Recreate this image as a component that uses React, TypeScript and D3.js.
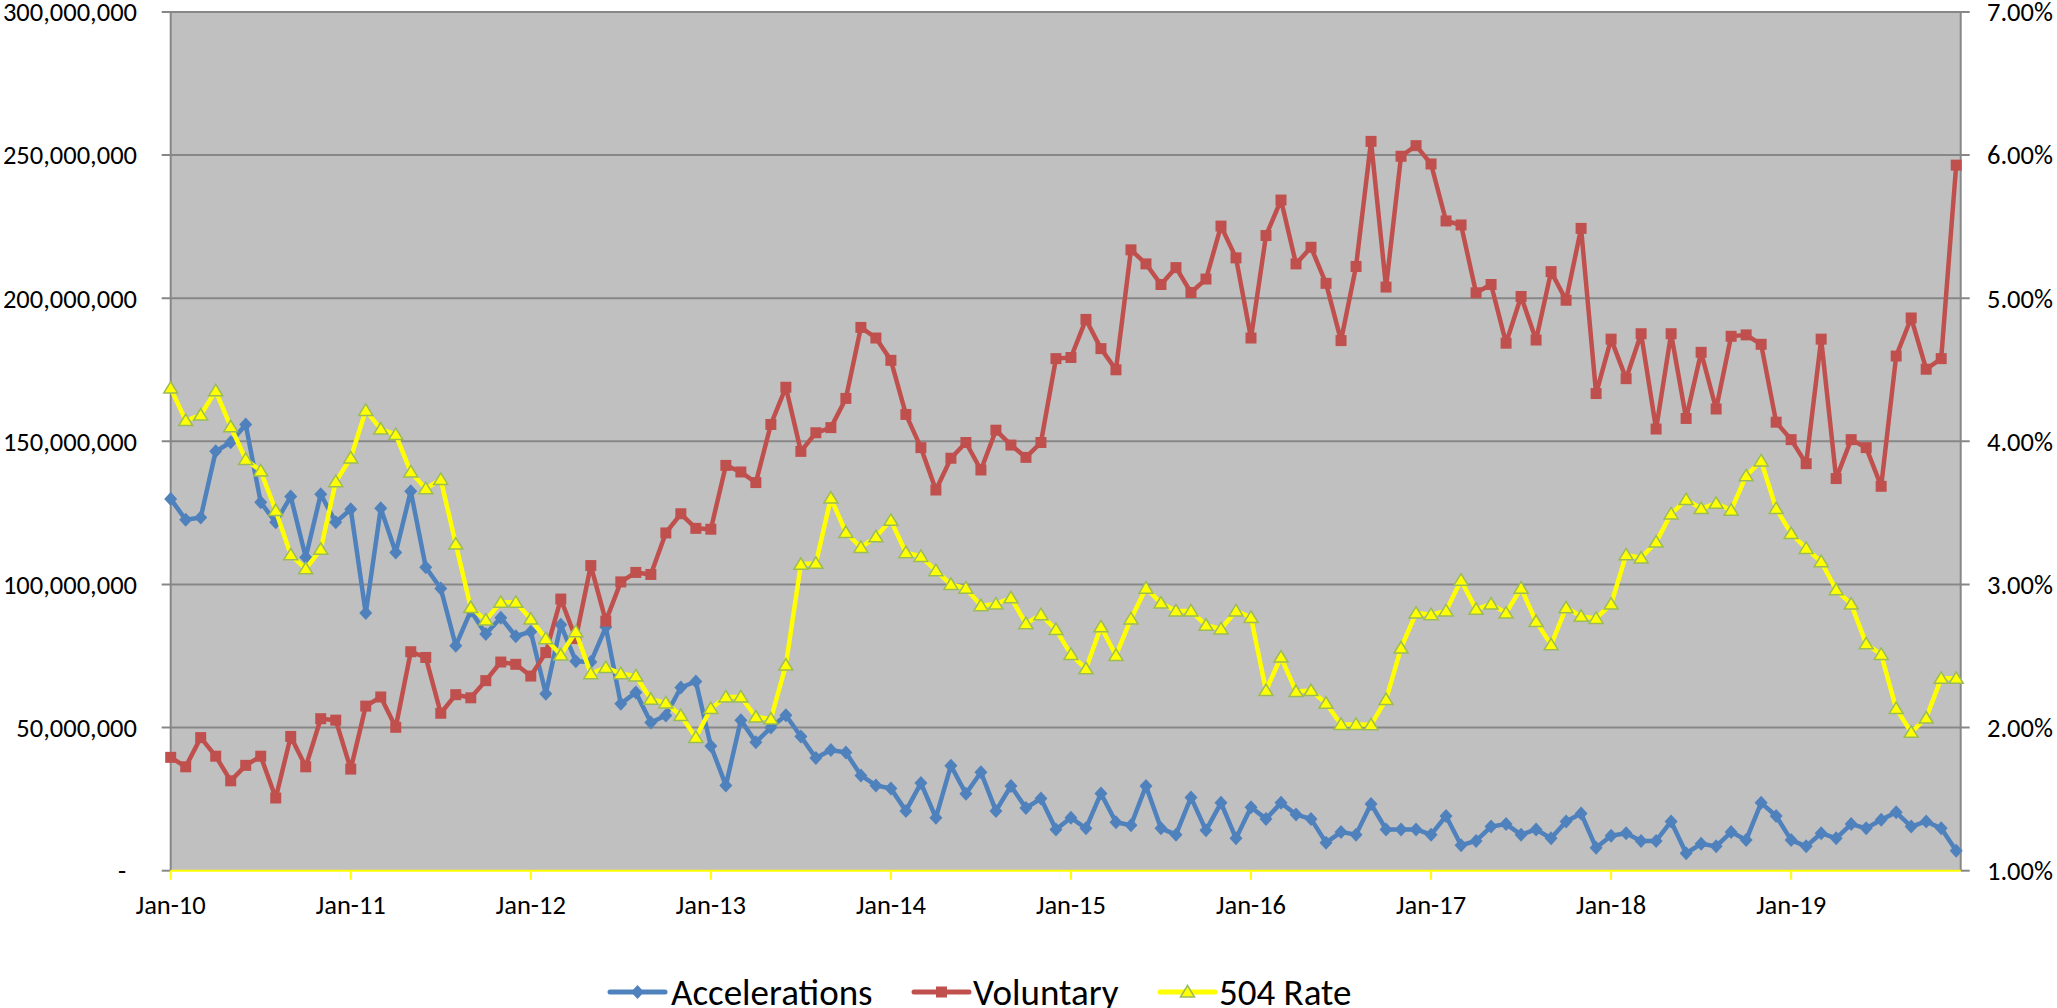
import React from 'react';
import * as d3 from 'd3';

// x-axis labels, one per January (index 0, 12, 24 ...)
const yearLabels = ['Jan-10', 'Jan-11', 'Jan-12', 'Jan-13', 'Jan-14', 'Jan-15', 'Jan-16', 'Jan-17', 'Jan-18', 'Jan-19'];

// monthly values Jan-10 .. Dec-19, in millions
const accelerations = [
  129.9, 122.6, 123.4, 146.5, 149.7, 155.9, 128.7, 121.7, 130.7, 109.5, 131.5, 121.7,
  126.3, 90.0, 126.6, 111.2, 132.6, 106.0, 98.6, 78.6, 90.8, 82.7, 88.4, 81.9,
  83.5, 61.8, 85.9, 73.2, 72.9, 85.1, 58.3, 62.3, 51.8, 54.2, 64.0, 66.1,
  43.6, 29.8, 52.6, 44.9, 50.0, 54.3, 46.9, 39.4, 42.2, 41.3, 33.3, 29.8,
  28.7, 20.9, 30.6, 18.5, 36.7, 26.9, 34.4, 20.9, 29.6, 21.9, 25.2, 14.4,
  18.5, 14.8, 27.0, 16.9, 15.9, 29.6, 14.8, 12.6, 25.6, 14.1, 23.7, 11.3,
  22.2, 18.1, 23.7, 19.6, 18.1, 9.8, 13.5, 12.6, 23.3, 14.4, 14.4, 14.4,
  12.6, 19.1, 8.9, 10.4, 15.4, 16.3, 12.6, 14.4, 11.3, 17.2, 20.0, 8.0,
  12.2, 13.1, 10.4, 10.4, 17.2, 6.1, 9.4, 8.5, 13.5, 10.7, 23.7, 19.1,
  10.7, 8.5, 13.1, 11.3, 16.3, 14.8, 17.8, 20.4, 15.4, 17.2, 14.8, 7.0,
];

const voluntary = [
  39.6, 36.3, 46.5, 40.0, 31.4, 36.8, 40.0, 25.4, 46.9, 36.3, 53.1, 52.6,
  35.5, 57.5, 60.7, 50.1, 76.5, 74.5, 55.0, 61.5, 60.4, 66.4, 72.9, 72.1,
  68.0, 76.2, 94.9, 81.1, 106.6, 87.2, 100.9, 104.2, 103.5, 118.0, 124.7, 119.6,
  119.3, 141.6, 139.3, 135.6, 155.9, 168.9, 146.5, 153.0, 154.8, 165.0, 189.8, 186.1,
  178.3, 159.4, 147.8, 133.0, 144.1, 149.6, 140.0, 153.9, 148.7, 144.4, 149.6, 178.9,
  179.3, 192.6, 182.4, 175.0, 216.9, 212.0, 204.8, 210.7, 202.0, 206.7, 225.2, 214.1,
  186.1, 221.9, 234.3, 212.0, 217.8, 205.2, 185.2, 211.1, 254.8, 203.9, 249.6, 253.3,
  246.9, 227.0, 225.6, 201.9, 204.8, 184.3, 200.6, 185.4, 209.3, 199.3, 224.4, 166.7,
  185.7, 171.9, 187.6, 154.3, 187.6, 158.0, 181.1, 161.3, 186.7, 187.2, 183.9, 156.7,
  150.6, 142.2, 185.7, 137.0, 150.6, 147.8, 134.3, 179.8, 193.1, 175.2, 178.9, 246.5,
];

// 504 rate in percent (right axis)
const rate504 = [
  4.372, 4.145, 4.184, 4.353, 4.102, 3.874, 3.793, 3.516, 3.207, 3.109, 3.246, 3.718,
  3.884, 4.216, 4.086, 4.047, 3.786, 3.669, 3.734, 3.282, 2.839, 2.751, 2.875, 2.875,
  2.758, 2.621, 2.507, 2.670, 2.377, 2.419, 2.377, 2.361, 2.198, 2.172, 2.084, 1.931,
  2.133, 2.214, 2.214, 2.074, 2.060, 2.437, 3.141, 3.148, 3.604, 3.363, 3.259, 3.333,
  3.448, 3.222, 3.196, 3.096, 3.000, 2.974, 2.852, 2.863, 2.907, 2.726, 2.789, 2.685,
  2.511, 2.411, 2.704, 2.504, 2.759, 2.974, 2.870, 2.815, 2.815, 2.715, 2.689, 2.815,
  2.770, 2.259, 2.493, 2.252, 2.259, 2.170, 2.022, 2.022, 2.019, 2.196, 2.556, 2.800,
  2.789, 2.815, 3.030, 2.826, 2.863, 2.800, 2.974, 2.741, 2.578, 2.837, 2.778, 2.763,
  2.863, 3.207, 3.185, 3.296, 3.493, 3.593, 3.530, 3.567, 3.519, 3.759, 3.863, 3.530,
  3.356, 3.252, 3.159, 2.963, 2.863, 2.585, 2.511, 2.133, 1.967, 2.067, 2.344, 2.344,
];

const leftTicks = [0, 50, 100, 150, 200, 250, 300];
const rightTicks = [1, 2, 3, 4, 5, 6, 7];

const W = 2057, H = 1008;
const plot = { left: 170.7, right: 1960.7, top: 12, bottom: 870.7 };
const font = 'Carlito, Lato, sans-serif';
const tickSize = 26.5;

const BLUE = '#4F81BD', RED = '#C0504D', YELLOW = '#FFFF00', OLIVE = '#9BBB59';
const GRID = '#878787';

const diamond = 'M0,-7L6.5,0L0,7L-6.5,0Z';
const square = 'M-5.5,-5.5H5.5V5.5H-5.5Z';
const triangle = 'M0,-6.5L7,5L-7,5Z';

export default function App() {
  // category index -> x
  const x = d3.scaleLinear().domain([0, 119.3]).range([plot.left, plot.right]);
  const yL = d3.scaleLinear().domain([0, 300]).range([plot.bottom, plot.top]);
  const yR = d3.scaleLinear().domain([1, 7]).range([plot.bottom, plot.top]);

  const lineL = d3.line<number>().x((_, i) => x(i)).y(d => yL(d));
  const lineR = d3.line<number>().x((_, i) => x(i)).y(d => yR(d));

  const fmtLeft = (v: number) => (v === 0 ? '-' : d3.format(',')(v * 1e6));
  const fmtRight = (v: number) => d3.format('.2f')(v) + '%';

  const legend = [
    { name: 'Accelerations', color: BLUE, shape: diamond, x0: 610, tx: 671, fill: BLUE, stroke: 'none' },
    { name: 'Voluntary', color: RED, shape: square, x0: 914, tx: 973, fill: RED, stroke: 'none' },
    { name: '504 Rate', color: YELLOW, shape: triangle, x0: 1160, tx: 1219, fill: YELLOW, stroke: OLIVE },
  ];

  return (
    <svg width={W} height={H} style={{ position: 'absolute', left: 0, top: 0, display: 'block', background: '#fff' }}>
      {/* plot area */}
      <rect x={plot.left} y={plot.top} width={plot.right - plot.left} height={plot.bottom - plot.top} fill="#C0C0C0" />

      {/* gridlines with tick marks on both sides */}
      {leftTicks.filter(t => t > 0).map(t => (
        <line key={`g${t}`} x1={plot.left - 9} x2={plot.right + 9} y1={yL(t)} y2={yL(t)} stroke={GRID} strokeWidth={2} />
      ))}
      <line x1={plot.left - 9} x2={plot.left} y1={plot.bottom} y2={plot.bottom} stroke={GRID} strokeWidth={2} />
      <line x1={plot.right} x2={plot.right + 9} y1={plot.bottom} y2={plot.bottom} stroke={GRID} strokeWidth={2} />

      {/* vertical axes */}
      <line x1={plot.left} x2={plot.left} y1={plot.top} y2={plot.bottom} stroke={GRID} strokeWidth={2} />
      <line x1={plot.right} x2={plot.right} y1={plot.top} y2={plot.bottom} stroke={GRID} strokeWidth={2} />

      {/* left tick labels */}
      {leftTicks.map(t => (
        <text key={`l${t}`} x={t === 0 ? 126 : 137} y={yL(t)} dy="0.35em" textAnchor="end" fontFamily={font} fontSize={tickSize} fill="#000">
          {fmtLeft(t)}
        </text>
      ))}
      {/* right tick labels */}
      {rightTicks.map(t => (
        <text key={`r${t}`} x={1987} y={yR(t)} dy="0.35em" textAnchor="start" fontFamily={font} fontSize={tickSize} fill="#000">
          {fmtRight(t)}
        </text>
      ))}

      {/* bottom axis, yellow, tick at each January */}
      <line x1={plot.left} x2={plot.right} y1={plot.bottom} y2={plot.bottom} stroke={YELLOW} strokeWidth={2} />
      {yearLabels.map((lab, k) => (
        <g key={lab} transform={`translate(${x(k * 12)},0)`}>
          <line y1={plot.bottom} y2={plot.bottom + 9} stroke={YELLOW} strokeWidth={2} />
          <text y={905} dy="0.35em" textAnchor="middle" fontFamily={font} fontSize={tickSize} fill="#000">{lab}</text>
        </g>
      ))}

      {/* Accelerations */}
      <path d={lineL(accelerations) || ''} fill="none" stroke={BLUE} strokeWidth={4.5} strokeLinejoin="round" />
      {accelerations.map((d, i) => (
        <path key={`a${i}`} d={diamond} transform={`translate(${x(i)},${yL(d)})`} fill={BLUE} />
      ))}

      {/* Voluntary */}
      <path d={lineL(voluntary) || ''} fill="none" stroke={RED} strokeWidth={4.5} strokeLinejoin="round" />
      {voluntary.map((d, i) => (
        <path key={`v${i}`} d={square} transform={`translate(${x(i)},${yL(d)})`} fill={RED} />
      ))}

      {/* 504 Rate on secondary axis */}
      <path d={lineR(rate504) || ''} fill="none" stroke={YELLOW} strokeWidth={4.5} strokeLinejoin="round" />
      {rate504.map((d, i) => (
        <path key={`r${i}`} d={triangle} transform={`translate(${x(i)},${yR(d)})`} fill={YELLOW} stroke={OLIVE} strokeWidth={1.5} />
      ))}

      {/* legend */}
      {legend.map(l => (
        <g key={l.name}>
          <line x1={l.x0} x2={l.x0 + 55} y1={992} y2={992} stroke={l.color} strokeWidth={5} strokeLinecap="round" />
          <path d={l.shape} transform={`translate(${l.x0 + 27.5},992)`} fill={l.fill} stroke={l.stroke} strokeWidth={1.5} />
          <text x={l.tx} y={1005} fontFamily={font} fontSize={37} fill="#000">{l.name}</text>
        </g>
      ))}
    </svg>
  );
}
